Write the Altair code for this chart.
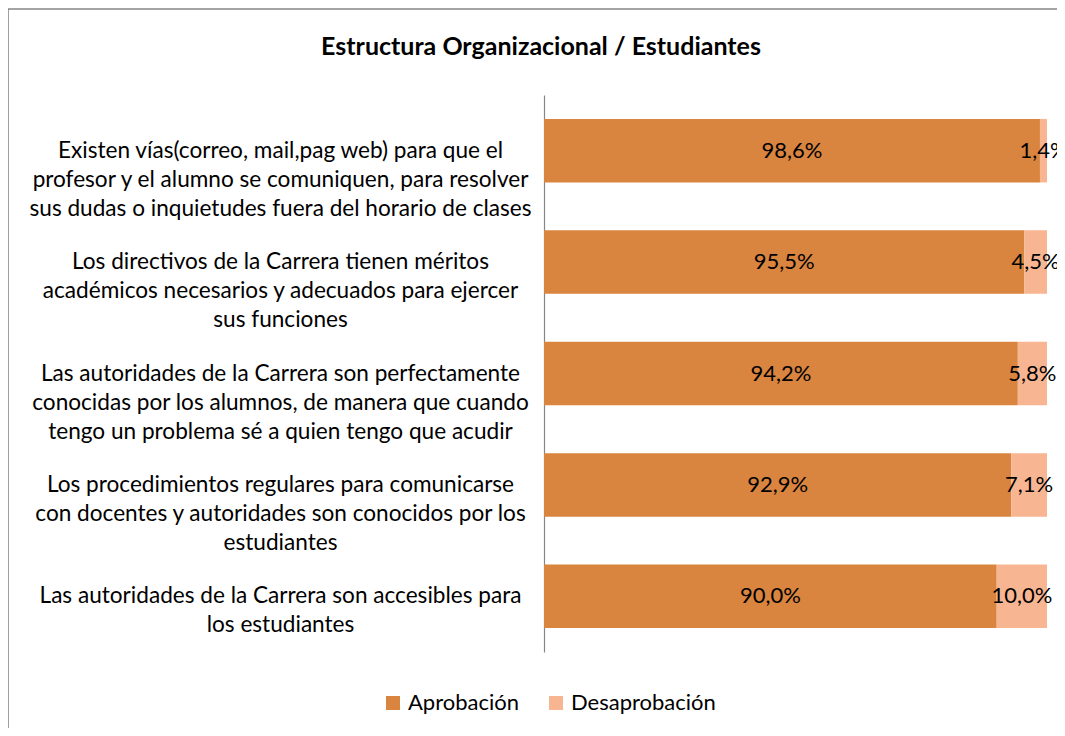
import altair as alt
import pandas as pd

title_text = "Estructura Organizacional / Estudiantes"
categories = [
    "Existen vías(correo, mail,pag web) para que el|profesor y el alumno se comuniquen, para resolver|sus dudas o inquietudes fuera del horario de clases",
    "Los directivos de la Carrera tienen méritos|académicos necesarios y adecuados para ejercer|sus funciones",
    "Las autoridades de la Carrera son perfectamente|conocidas por los alumnos, de manera que cuando|tengo un problema sé a quien tengo que acudir",
    "Los procedimientos regulares para comunicarse|con docentes y autoridades son conocidos por los|estudiantes",
    "Las autoridades de la Carrera son accesibles para|los estudiantes",
]
series = ["Aprobación", "Desaprobación"]
aprobacion = [98.6, 95.5, 94.2, 92.9, 90.0]
desaprobacion = [1.4, 4.5, 5.8, 7.1, 10.0]
colors = ["#D9843F", "#F8B592"]

rows = []
for c, a, d in zip(categories, aprobacion, desaprobacion):
    rows.append({"cat": c, "serie": series[0], "v": a, "o": 0})
    rows.append({"cat": c, "serie": series[1], "v": d, "o": 1})
df = pd.DataFrame(rows)

FONT = "Lato"
W, H = 503, 557

base = alt.Chart(df).transform_calculate(
    lbl="replace(format(datum.v, '.1f'), '.', ',') + '%'"
).transform_stack(
    stack="v", groupby=["cat"], as_=["v0", "v1"], sort=[alt.SortField("o", order="ascending")]
).transform_calculate(
    mid="(datum.v0 + datum.v1) / 2"
)

y_enc = alt.Y(
    "cat:N",
    sort=categories,
    title=None,
    scale=alt.Scale(paddingInner=0.43, paddingOuter=0.215),
    axis=alt.Axis(
        labelExpr="split(datum.label, '|')",
        labelAlign="center",
        labelBaseline="middle",
        labelPadding=264,
        labelLineHeight=29,
        labelFontSize=22.6,
        labelFont=FONT,
        labelColor="#000000",
        labelLimit=0,
        ticks=False,
        grid=False,
        domainColor="#868686",
        domainWidth=1.2,
    ),
)

x_scale = alt.Scale(domain=[0, 100], nice=False, zero=True)

bars = base.mark_bar(strokeWidth=0).encode(
    x=alt.X("v0:Q", scale=x_scale, axis=None),
    x2="v1:Q",
    y=y_enc,
    color=alt.Color(
        "serie:N",
        scale=alt.Scale(domain=series, range=colors),
        legend=alt.Legend(
            title=None,
            orient="none",
            legendX=-162,
            legendY=597,
            direction="horizontal",
            symbolType="square",
            symbolSize=196,
            symbolStrokeWidth=0,
            labelFont=FONT,
            labelFontSize=22,
            labelColor="#000000",
            labelOffset=4,
            columnPadding=25,
        ),
    ),
    order=alt.Order("o:Q"),
)

texts = base.mark_text(font=FONT, fontSize=22, color="#000000", baseline="middle", align="center").encode(
    x=alt.X("mid:Q", scale=x_scale, axis=None),
    y=alt.Y("cat:N", sort=categories),
    text="lbl:N",
)

frame = alt.Chart(alt.Data(values=[{"a": 1}])).mark_rect(
    fill="white", fillOpacity=0, stroke="#878787", strokeWidth=1.6
).encode(
    x=alt.value(-536), x2=alt.value(W + 60), y=alt.value(-86), y2=alt.value(H + 200)
)

title = alt.Chart(alt.Data(values=[{"t": title_text}])).mark_text(
    font=FONT, fontSize=25, fontWeight="bold", color="#000000", align="center", baseline="middle"
).encode(
    x=alt.value(-3), y=alt.value(-48), text="t:N"
)

chart = alt.layer(frame, bars, texts, title).properties(
    width=W,
    height=H,
    background="white",
    padding={"left": 536, "top": 87, "right": 10, "bottom": 76},
    autosize=alt.AutoSizeParams(type="none"),
).configure_view(strokeWidth=0, stroke="transparent")

chart.save("out.html", embed_options={"renderer": "svg", "actions": False})
